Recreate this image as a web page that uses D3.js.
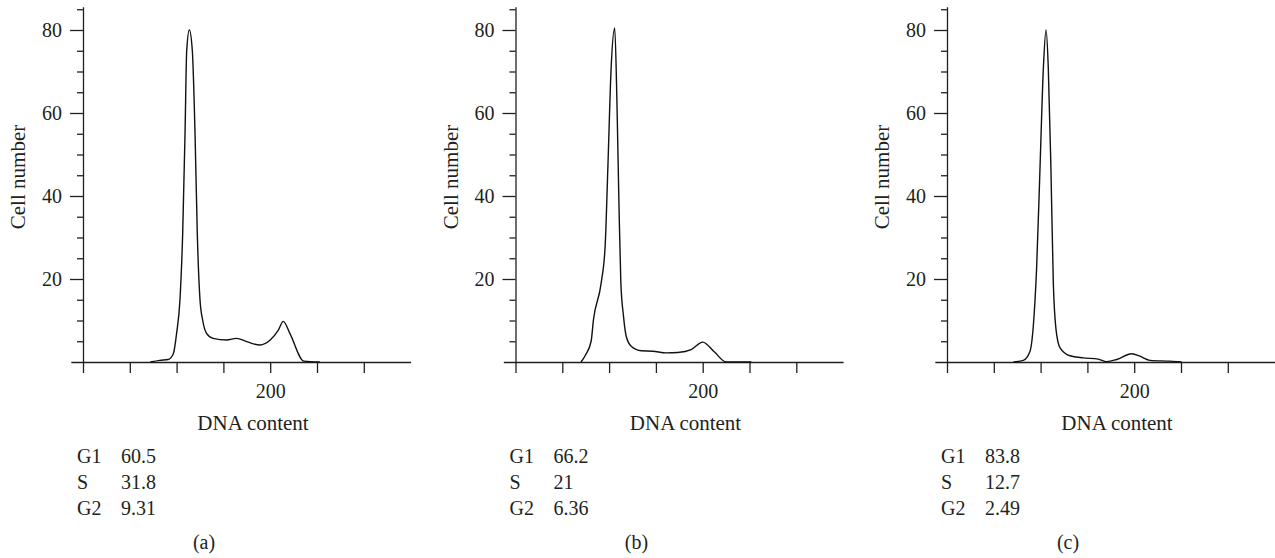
<!DOCTYPE html>
<html>
<head>
<meta charset="utf-8">
<script src="https://cdn.jsdelivr.net/npm/d3@7"></script>
<style>
  body { margin: 0; background: #fff; }
  svg text { font-family: "Liberation Serif", "Times New Roman", Times, serif; fill: #231f20; }
  .axis path, .axis line { stroke: #231f20; stroke-width: 1.3; }
  .axis text { font-size: 20px; }
</style>
</head>
<body>
<div id="chart"></div>
<script>
// histogram readings (DNA content channel, cell number)
var dnaA=[72,82,91,96.5,100,103.6,106.5,109,110.8,113.6,116.8,119.7,122.1,125,127.9,132,139,153.5,164,175,189,200,208.7,214,221,236,253];
var cellsA=[0,0.4,0.6,2,6.9,15,31,55,75,80,75,55,31,15,10,6.9,5.7,5.3,5.7,4.9,4.1,5.3,7.7,9.8,6.9,0.2,0];

var dnaB=[70,74.8,80.8,83.3,91.5,95.8,98.7,102.2,106,108.3,110.4,112.5,115.4,118.3,123.6,134.3,146.7,161,173.4,187.7,200,212.6,225,252];
var cellsB=[0,1.7,5,10.2,19,28,47,71,80.5,63.5,39.5,19.4,11,6.2,3.8,2.7,2.6,2.2,2.3,3,4.8,2.4,0,0];

var dnaC=[71,81.5,88.7,92.2,95.8,99.4,103,105.8,108.2,111,113.6,116.5,120.8,131.4,145.6,161.6,170.6,181.3,197.3,206.2,216.9,238.2,250.7];
var cellsC=[0,0.4,2.6,8.6,23,47,71,80,71,47,19,7.8,3.4,1.5,1,0.7,0.1,0.6,2,1.4,0.4,0.2,0];

// cell cycle percentages
var phases=["G1","S","G2"];
var statsA=["60.5","31.8","9.31"];
var statsB=["66.2","21","6.36"];
var statsC=["83.8","12.7","2.49"];

var panelLabels=["(a)","(b)","(c)"];
var xTicks=[0,50,100,150,200,250,300];
var yMajor=[20,40,60,80];
var yMinor=[5,10,15,25,30,35,45,50,55,65,70,75,85];

var svgWidth=1275;
var svgHeight=558;
var panelX=[83,515.5,947];
var serif="'Liberation Serif', 'Times New Roman', Times, serif";

var svg=d3.select("#chart")
  .append("svg")
  .attr("width",svgWidth)
  .attr("height",svgHeight);

var panels=[
  {x:dnaA,y:cellsA,stats:statsA},
  {x:dnaB,y:cellsB,stats:statsB},
  {x:dnaC,y:cellsC,stats:statsC}
];

// shared scales (local to each panel, origin on the y axis)
var xScale=d3.scaleLinear().domain([-13,350]).range([-13*0.936,350*0.936]);
var yScale=d3.scaleLinear().domain([0,85.6]).range([362,362-85.6*4.15]);

panels.forEach(function(p,i) {
  var g=svg.append("g")
    .attr("transform",`translate(${panelX[i]},0)`);

  // x axis
  g.append("g")
    .attr("class","axis")
    .attr("font-family",serif)
    .attr("transform",`translate(0,${yScale(0)})`)
    .call(d3.axisBottom(xScale)
      .tickValues(xTicks)
      .tickSize(11)
      .tickSizeOuter(0)
      .tickPadding(11)
      .tickFormat(d=>d===200?"200":""));

  // y axis minor ticks
  g.append("g")
    .attr("class","axis")
    .attr("transform",`translate(${xScale(0)},0)`)
    .call(d3.axisLeft(yScale)
      .tickValues(yMinor)
      .tickSize(6)
      .tickSizeOuter(0)
      .tickFormat(""));

  // y axis major ticks
  var yMaj=g.append("g")
    .attr("class","axis")
    .attr("font-family",serif)
    .attr("transform",`translate(${xScale(0)},0)`)
    .call(d3.axisLeft(yScale)
      .tickValues(yMajor)
      .tickSize(13)
      .tickSizeOuter(0)
      .tickPadding(8));
  yMaj.select(".domain").remove();

  // histogram line
  var line=d3.line()
    .x((d,j)=>xScale(p.x[j]))
    .y(d=>yScale(d))
    .curve(d3.curveMonotoneX);

  g.append("path")
    .datum(p.y)
    .attr("fill","none")
    .attr("stroke","#111")
    .attr("stroke-width",1.4)
    .attr("d",line);

  // axis titles
  g.append("text")
    .attr("transform",`translate(-58,177) rotate(-90)`)
    .attr("text-anchor","middle")
    .attr("font-family",serif)
    .attr("font-size","21px")
    .text("Cell number");

  g.append("text")
    .attr("x",170)
    .attr("y",430)
    .attr("text-anchor","middle")
    .attr("font-family",serif)
    .attr("font-size","21px")
    .text("DNA content");

  // phase table
  phases.forEach(function(ph,k) {
    g.append("text")
      .attr("x",-6)
      .attr("y",463+k*26)
      .attr("font-family",serif)
      .attr("font-size","20px")
      .text(ph);
    g.append("text")
      .attr("x",38)
      .attr("y",463+k*26)
      .attr("font-family",serif)
      .attr("font-size","20px")
      .text(p.stats[k]);
  });

  g.append("text")
    .attr("x",121)
    .attr("y",549)
    .attr("text-anchor","middle")
    .attr("font-family",serif)
    .attr("font-size","20px")
    .text(panelLabels[i]);
});
</script>
</body>
</html>
